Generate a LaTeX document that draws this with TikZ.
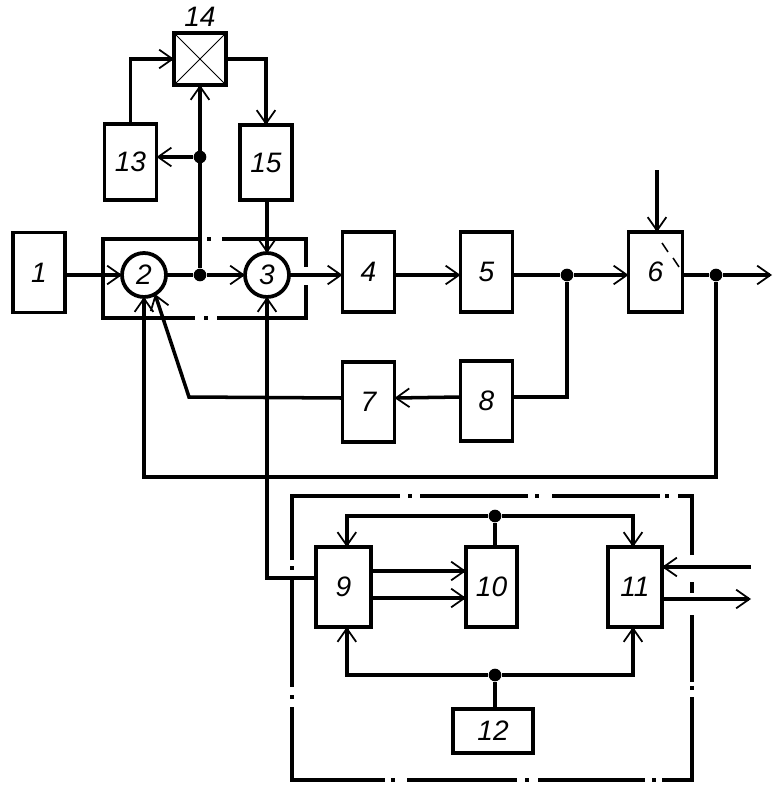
\documentclass[tikz,border=0pt]{standalone}
\usepackage{fontspec}
\setmainfont{Liberation Sans}
\usetikzlibrary{positioning,arrows.meta,calc}
\tikzset{
  block/.style={rectangle,draw=black,line width=3.2pt,fill=white,align=center,outer sep=0pt,inner sep=0pt,minimum width=1.56cm,minimum height=2.4cm,font=\itshape\fontsize{24}{24}\selectfont},
  summer/.style={circle,draw=black,line width=3.2pt,fill=white,outer sep=0pt,inner sep=0pt,minimum size=1.32cm,font=\itshape\fontsize{24}{24}\selectfont},
  dot/.style={circle,fill=black,inner sep=0pt,minimum size=.38cm},
  wire/.style={line width=3pt},
  edge/.style={line width=3pt,-{Straight Barb[length=4mm,width=5.6mm,line width=1.5pt]}},
  frame/.style={line width=3.2pt}
}
\begin{document}
\begin{tikzpicture}[x=.03cm,y=-.03cm]
  \useasboundingbox (0,0) rectangle (780,790);
  % chain along the top
  \node[block] (b1) at (39,272.5) {1};
  \node[summer] (c2) at (144,275) {2};
  \node[summer,right=2.37cm of c2] (c3) {3};
  \node[block] (b4) at (368.5,272) {4};
  \node[block,right=1.98cm of b4] (b5) {5};
  \node[block,minimum width=1.62cm,right=3.48cm of b5] (b6) {6};
  \node[block,below=1.5cm of b4] (b7) {7};
  \node[block,below=1.47cm of b5] (b8) {8};
  % upper loop
  \node[block,minimum height=2.28cm] (b13) at (130.5,162) {13};
  \node[block,minimum height=1.56cm,label={[font=\itshape\fontsize{24}{24}\selectfont,yshift=.06cm]above:14}] (b14) at (200,59) {};
  \node[block,minimum height=2.25cm] (b15) at (266,162.5) {15};
  % lower group
  \node[block,minimum width=1.65cm] (b9) at (343.5,587) {9};
  \node[block,minimum width=1.53cm,right=2.85cm of b9] (b10) {10};
  \node[block,minimum width=1.62cm,right=2.73cm of b10] (b11) {11};
  \node[block,minimum width=2.4cm,minimum height=1.32cm] (b12) at (493,731) {12};
  % junctions
  \node[dot] (j1) at (200,275) {};
  \node[dot] (j2) at (200,157) {};
  \node[dot] (j3) at (495,516) {};
  \node[dot] (j4) at (495,675) {};
  \node[dot] (j5) at (567,275) {};
  \node[dot] (j6) at (716,275) {};
  \coordinate (in6) at (657,170);
  \coordinate (out6) at (772,275);
  \coordinate (in11) at (751,567);
  \coordinate (out11) at (751,599);
  \coordinate (k6) at (144,477);
  \coordinate (k7) at (189,397);
  % thin marks in 14 and 6
  \draw[line width=.8pt] (b14.north west) -- (b14.south east);
  \draw[line width=.8pt] (b14.north east) -- (b14.south west);
  \draw[line width=1.3pt] (662,243) -- (668,252);
  \draw[line width=1.3pt] (673,258) -- (679,267);
  % wires
  \draw[edge] (b1.east|-c2) -- (c2.west);
  \draw[wire] (c2.east) -- (j1);
  \draw[edge] (j1) -- (c3.west);
  \draw[edge] (c3.east) -- (b4.west|-c3);
  \draw[edge] (b4.east|-c3) -- (b5.west|-c3);
  \draw[wire] (b5.east|-c3) -- (j5);
  \draw[edge] (j5) -- (b6.west|-j5);
  \draw[wire] (b6.east|-j6) -- (j6);
  \draw[edge] (j6) -- (out6);
  \draw[edge] (in6) -- (in6|-b6.north);
  \draw[edge] (j1) -- (j1|-b14.south);
  \draw[edge] (j2) -- (j2-|b13.east);
  \draw[edge] (b13.north) |- (b14.west);
  \draw[edge] (b14.east) -| (b15.north);
  \draw[edge] (c3|-b15.south) -- (c3.north);
  \draw[wire] ([yshift=.12cm]b8.east) -| (j5);
  \draw[edge] ([yshift=.12cm]b8.west) -- ([yshift=.12cm]b7.east);
  \draw[edge] ([yshift=.12cm]b7.west) -- (k7) -- (c2.-60);
  \draw[edge] (j6) |- (k6) -- (c2.south);
  \draw[edge] ([yshift=.27cm]b9.west) -| (c3.south);
  \draw[edge] ([yshift=.48cm]b9.east) -- ([yshift=.48cm]b10.west);
  \draw[edge] ([yshift=-.33cm]b9.east) -- ([yshift=-.33cm]b10.west);
  \draw[wire] (j3|-b10.north) -- (j3);
  \draw[edge] (j3) -| ([xshift=.1cm]b9.north);
  \draw[edge] (j3) -| ([xshift=-.06cm]b11.north);
  \draw[wire] (j4|-b12.north) -- (j4);
  \draw[edge] (j4) -| ([xshift=.1cm]b9.south);
  \draw[edge] (j4) -| ([xshift=-.06cm]b11.south);
  \draw[edge] (in11) -- (in11-|b11.east);
  \draw[edge] (out11-|b11.east) -- (out11);
  % dash-dot frames
  \draw[frame] (198,239) -- (103,239) -- (103,318) -- (195,318);
  \draw[frame] (222,239) -- (306,239) -- (306,267);
  \draw[frame] (306,285) -- (306,318) -- (217,318);
  \draw[frame] (207,239) -- (211,239);
  \draw[frame] (204,318) -- (208,318);
  \draw[frame] (292,560) -- (292,496) -- (400,496);
  \draw[frame] (692,555) -- (692,496) -- (678,496);
  \draw[frame] (692,697) -- (692,780) -- (662,780);
  \draw[frame] (292,707) -- (292,780) -- (385,780);
  \foreach \a/\b in {420/528,552/660}
    \draw[frame] (\a,496) -- (\b,496);
  \foreach \a/\b in {407/517,538/645}
    \draw[frame] (\a,780) -- (\b,780);
  \foreach \a in {408,535,665}
    \draw[frame] (\a,496) -- (\a+4,496);
  \foreach \a in {391,525,652}
    \draw[frame] (\a,780) -- (\a+4,780);
  \draw[frame] (292,580) -- (292,687);
  \draw[frame] (292,566) -- (292,570);
  \draw[frame] (292,695) -- (292,699);
  \draw[frame] (692,582) -- (692,593);
  \draw[frame] (692,615) -- (692,682);
  \draw[frame] (692,686) -- (692,690);
\end{tikzpicture}
\end{document}
